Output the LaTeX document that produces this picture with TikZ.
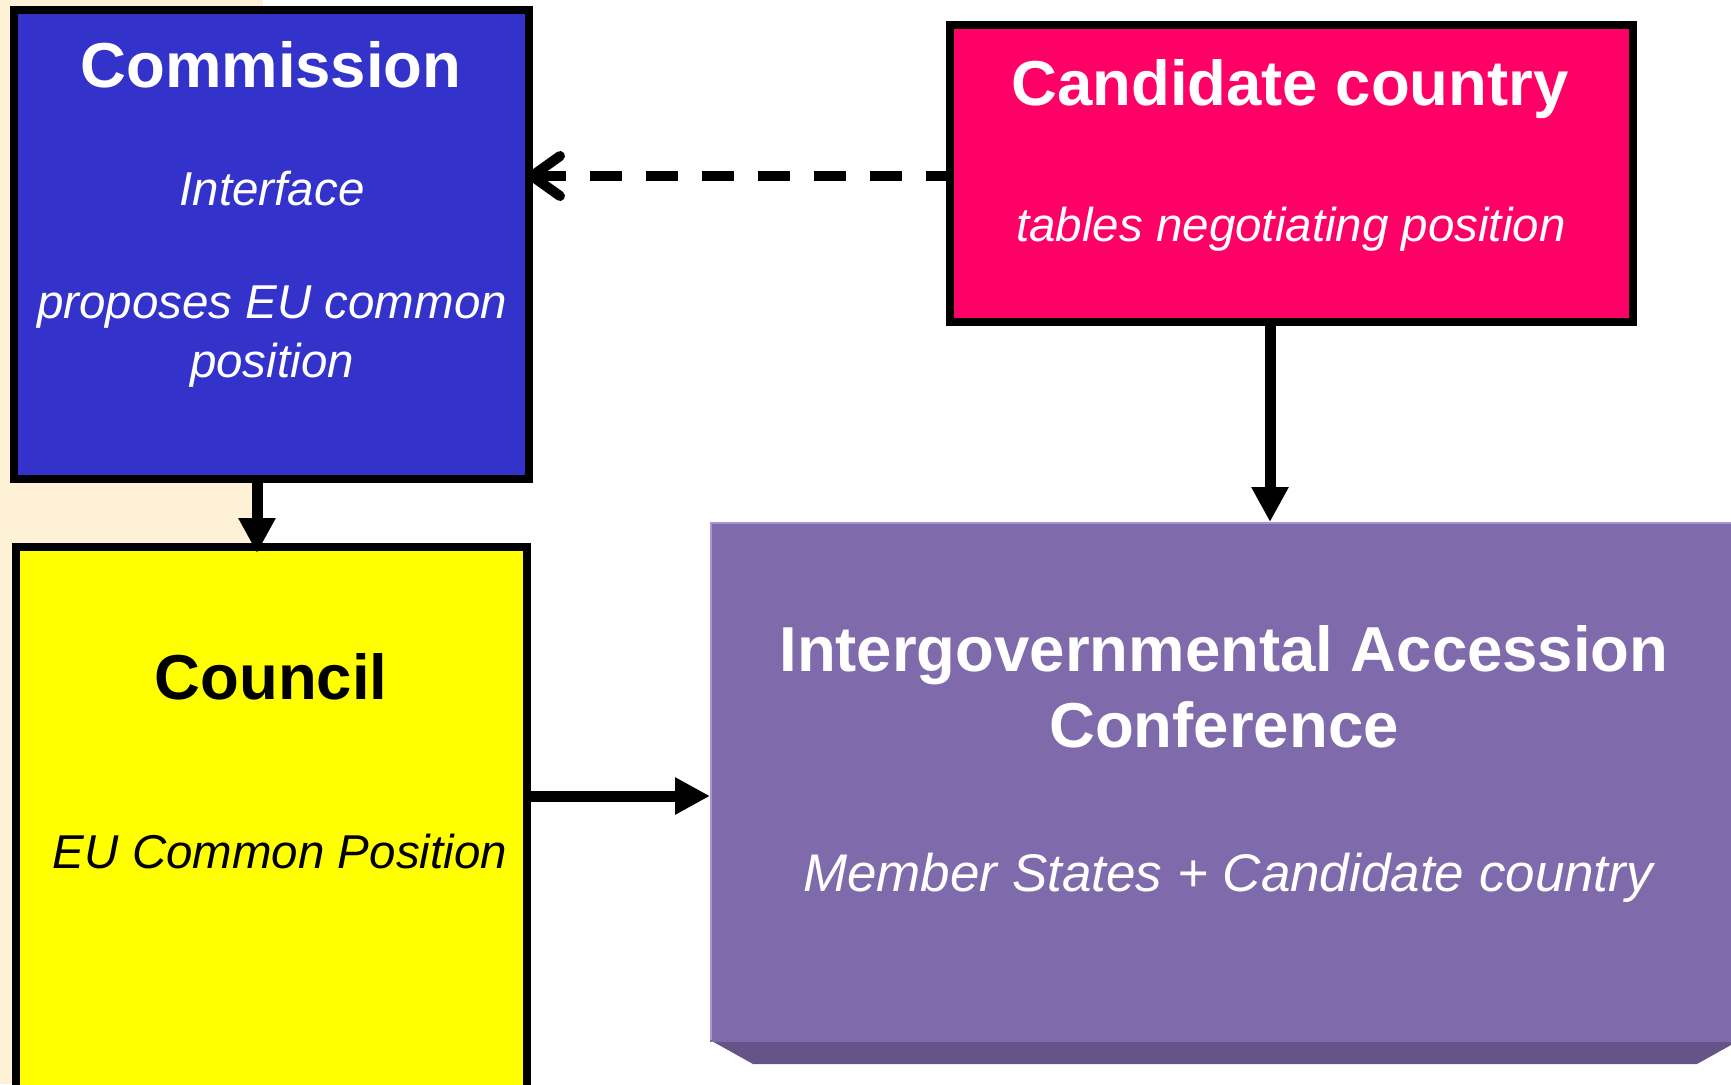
\documentclass[tikz,border=0pt]{standalone}
\usepackage{fontspec}
\setmainfont{Liberation Sans}
\usetikzlibrary{arrows.meta}
\definecolor{cream}{HTML}{FFF1D5}
\definecolor{commblue}{HTML}{3333CC}
\definecolor{candpink}{HTML}{FF0066}
\definecolor{councilyellow}{HTML}{FFFF00}
\definecolor{confpurple}{HTML}{7F6AAC}
\definecolor{confshade}{HTML}{655487}
\definecolor{confedge}{HTML}{A696D2}
\tikzset{
  bbox/.style={draw=black, line width=4pt, rectangle, inner sep=0pt, outer sep=0pt},
  titletext/.style={font=\fontsize{31.75}{38}\selectfont\bfseries, anchor=base, inner sep=0pt},
  subtext/.style={font=\fontsize{23.75}{29.5}\selectfont\itshape, anchor=base, inner sep=0pt},
  solidarrow/.style={line width=5.5pt, -{Triangle[length=17.5pt,width=17.5pt]}},
  dasharrow/.style={line width=5pt, dash pattern=on 16pt off 12pt, dash phase=4pt, -{Straight Barb[length=14pt,width=20pt,line cap=round,line join=round]}}
}
\begin{document}
\begin{tikzpicture}[x=0.5pt,y=-0.5pt]
\useasboundingbox (0,0) rectangle (1731,1084);
\clip (0,0) rectangle (1731,1084);
% cream band
\fill[cream] (0,0) rectangle (263,1084);
% conference shadow and face
\fill[confshade] (710,1040) -- (753,1064) -- (1697,1064) -- (1740,1040) -- cycle;
\node[rectangle, fill=confpurple, minimum width=515pt, minimum height=260pt, inner sep=0pt, outer sep=0pt] (conf) at (1225,782) {};
\draw[confedge, line width=1pt] (711,1040) -- (711,523) -- (1740,523);
% boxes
\node[bbox, fill=commblue, minimum width=257.5pt, minimum height=234.5pt] (comm) at (271.5,244.5) {};
\node[bbox, fill=candpink, minimum width=341.5pt, minimum height=148.5pt] (cand) at (1291.5,173.5) {};
\node[bbox, fill=councilyellow, minimum width=255.5pt, minimum height=284.5pt] (council) at (271.5,831.5) {};
% texts
\node[titletext, text=white] (commT) at (271,87) {Commission};
\node[subtext, text=white] (commI) at (272,205) {Interface};
\node[subtext, text=white] (commP1) at (272,318) {proposes EU common};
\node[subtext, text=white] (commP2) at (272,377) {position};
\node[titletext, text=white] (candT) at (1290,105) {Candidate country};
\node[subtext, text=white] (candP) at (1291,241) {tables negotiating position};
\node[titletext, text=black] (councilT) at (271,699) {Council};
\node[subtext, text=black] (councilP) at (280,868) {EU Common Position};
\node[titletext, text=white] (confT1) at (1224,671) {Intergovernmental Accession};
\node[titletext, text=white] (confT2) at (1224,747) {Conference};
\node[subtext, text=white, font=\fontsize{26.5}{32}\selectfont\itshape] (confP) at (1228,891) {Member States + Candidate country};
% connectors
\coordinate (xa) at (257,0);
\coordinate (xb) at (1270,0);
\coordinate (ya) at (0,796);
\coordinate (yd) at (0,176);
\draw[solidarrow, shorten >=-3pt] (comm.south -| xa) -- (council.north -| xa);
\draw[solidarrow] (cand.south -| xb) -- (conf.north -| xb);
\draw[solidarrow] (council.east |- ya) -- (conf.west |- ya);
\draw[dasharrow, shorten >=-1pt] (cand.west |- yd) -- (comm.east |- yd);
\end{tikzpicture}
\end{document}
